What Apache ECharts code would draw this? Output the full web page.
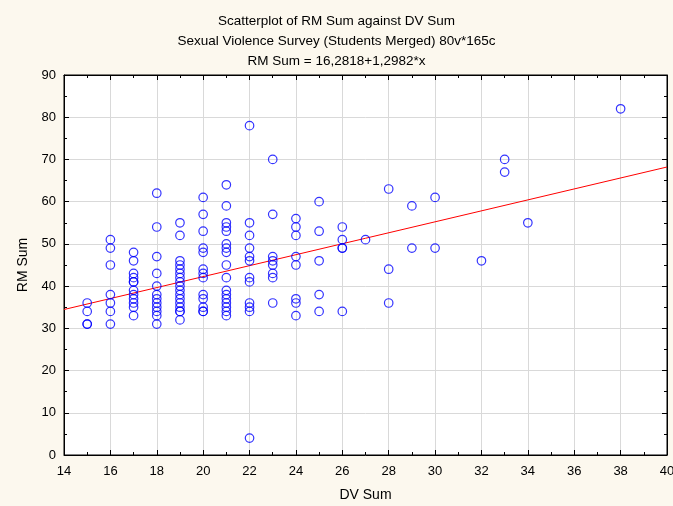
<!DOCTYPE html>
<html>
<head>
<meta charset="utf-8">
<script src="https://cdn.jsdelivr.net/npm/echarts@6/dist/echarts.min.js"></script>
<style>
html,body{margin:0;padding:0;background:#fcf8ee;}
#chart{width:673px;height:506px;}
</style>
</head>
<body>
<div id="chart"></div>
<script>
var dvSum = [
  15,15,15,15,
  16,16,16,16,16,16,16,
  17,17,17,17,17,17,17,17,17,17,17,17,
  18,18,18,18,18,18,18,18,18,18,18,18,
  19,19,19,19,19,19,19,19,19,19,19,19,19,19,19,19,19,
  20,20,20,20,20,20,20,20,20,20,20,20,20,
  21,21,21,21,21,21,21,21,21,21,21,21,21,21,21,21,21,
  22,22,22,22,22,22,22,22,22,22,22,22,
  23,23,23,23,23,23,23,23,
  24,24,24,24,24,24,24,24,
  25,25,25,25,25,
  26,26,26,26,26,
  27,
  28,28,28,
  29,29,
  30,30,
  32,
  33,33,
  34,
  38
];
var rmSum = [
  36,34,31,31,
  51,49,45,38,36,34,31,
  48,46,43,42,41,41,39,38,37,36,35,33,
  62,54,47,43,40,38,37,36,35,34,33,31,
  55,52,46,45,44,43,42,41,40,39,38,37,36,35,34,34,32,
  61,57,53,49,48,44,43,42,38,37,35,34,34,
  64,59,55,54,53,50,49,48,45,42,39,38,37,36,35,34,33,
  78,55,52,49,47,46,42,41,36,35,34,4,
  70,57,47,46,45,43,42,36,
  56,54,52,47,45,37,36,33,
  60,53,46,38,34,
  54,51,49,49,34,
  51,
  63,44,36,
  59,49,
  61,49,
  46,
  70,67,
  55,
  82
];
// Fitted line RM Sum = 16,2818 + 1,2982*x, endpoints at the axis limits
var fitX = [14, 40];
var fitY = [34.46, 68.21];

var titleLines = [
  'Scatterplot of RM Sum against DV Sum',
  'Sexual Violence Survey (Students Merged) 80v*165c',
  'RM Sum = 16,2818+1,2982*x'
];

var points = dvSum.map(function(d, i){ return [d, rmSum[i]]; });
var linePts = fitX.map(function(d, i){ return [d, fitY[i]]; });

var FONT = 'Liberation Sans, Arial, sans-serif';
var chart = echarts.init(document.getElementById('chart'), null, {renderer:'canvas'});

var baseX = {
  type:'value', min:14, max:40, interval:2,
  axisLine:{show:true, onZero:false, lineStyle:{color:'#000', width:1}},
  axisTick:{show:true, inside:true, length:5, lineStyle:{color:'#000'}},
  minorTick:{show:true, splitNumber:2, length:3, lineStyle:{color:'#000'}},
  splitLine:{show:false}
};
var baseY = {
  type:'value', min:0, max:90, interval:10,
  axisLine:{show:true, onZero:false, lineStyle:{color:'#000', width:1}},
  axisTick:{show:true, inside:true, length:5, lineStyle:{color:'#000'}},
  minorTick:{show:true, splitNumber:2, length:3, lineStyle:{color:'#000'}},
  splitLine:{show:false}
};

chart.setOption({
  backgroundColor:'#fcf8ee',
  animation:false,
  title: titleLines.map(function(t, i){
    return {text:t, left:'center', top:9 + i*20,
      textStyle:{fontFamily:FONT, fontSize:13.5, fontWeight:'normal', color:'#000'}};
  }),
  grid:{left:64, right:6, top:75, bottom:51, containLabel:false, outerBoundsMode:'none',
    show:true, backgroundColor:'#ffffff', borderColor:'#000', borderWidth:1},
  xAxis:[
    Object.assign({}, baseX, {
      position:'bottom',
      name:'DV Sum', nameLocation:'middle', nameGap:33,
      nameTextStyle:{fontFamily:FONT, fontSize:14, color:'#000'},
      axisLabel:{show:true, margin:10, fontFamily:FONT, fontSize:13, color:'#000'},
      splitLine:{show:true, lineStyle:{color:'#d9d9d9', width:1}}
    }),
    Object.assign({}, baseX, {position:'top', axisLabel:{show:false}})
  ],
  yAxis:[
    Object.assign({}, baseY, {
      position:'left',
      name:'RM Sum', nameLocation:'middle', nameGap:32,
      nameTextStyle:{fontFamily:FONT, fontSize:14, color:'#000'},
      axisLabel:{show:true, margin:8, fontFamily:FONT, fontSize:13, color:'#000'},
      splitLine:{show:true, lineStyle:{color:'#d9d9d9', width:1}}
    }),
    Object.assign({}, baseY, {position:'right', axisLabel:{show:false}})
  ],
  series:[
    {
      type:'line', data:linePts, xAxisIndex:0, yAxisIndex:0,
      symbol:'none', lineStyle:{color:'#ff0000', width:1}, z:3, silent:true
    },
    {
      type:'scatter', data:points, xAxisIndex:0, yAxisIndex:0,
      symbol:'circle', symbolSize:8.5,
      itemStyle:{color:'rgba(255,255,255,0)', borderColor:'#0000ff', borderWidth:1.2},
      z:4
    }
  ]
});
</script>
</body>
</html>
